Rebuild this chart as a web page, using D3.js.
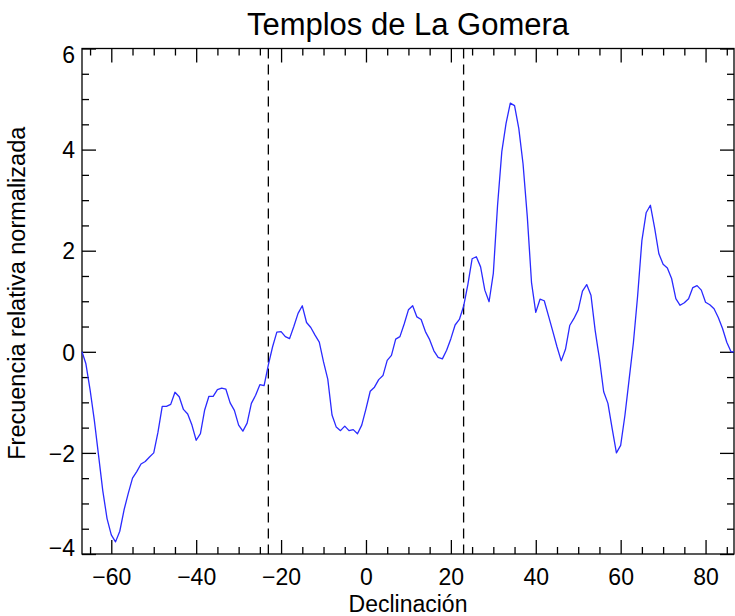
<!DOCTYPE html>
<html>
<head>
<meta charset="utf-8">
<script src="https://cdn.jsdelivr.net/npm/d3@7"></script>
<style>
  body { margin: 0; background: #fff; }
  text { font-family: "Liberation Sans", Arial, sans-serif; fill: #000; }
</style>
</head>
<body>
<script>
// declination samples (degrees)
var declinacion = [-66.9, -66, -65, -64, -63, -62, -61, -60, -59, -58, -57, -56, -55, -54, -53, -52, -51, -50,
  -49, -48, -47, -46, -45, -44, -43, -42, -41, -40, -39, -38, -37, -36, -35, -34, -33, -32, -31, -30,
  -29, -28, -27, -26, -25, -24, -23, -22, -21, -20, -19, -18, -17, -16, -15, -14, -13, -12, -11, -10,
  -9, -8, -7, -6, -5, -4, -3, -2, -1, 0, 1, 2, 3, 4, 5, 6, 7, 8, 9, 10,
  11, 12, 13, 14, 15, 16, 17, 18, 19, 20, 21, 22, 23, 24, 25, 26, 27, 28, 29, 30,
  31, 32, 33, 34, 35, 36, 37, 38, 39, 40, 41, 42, 43, 44, 45, 46, 47, 48, 49, 50,
  51, 52, 53, 54, 55, 56, 57, 58, 59, 60, 61, 62, 63, 64, 65, 66, 67, 68, 69, 70,
  71, 72, 73, 74, 75, 76, 77, 78, 79, 80, 81, 82, 83, 84, 85, 86, 86.7];

// normalized relative frequency
var frecuencia = [0.00, -0.23, -0.75, -1.35, -2.05, -2.75, -3.30, -3.62, -3.76, -3.55, -3.13, -2.80, -2.50, -2.37, -2.22, -2.17, -2.08, -2.00,
  -1.59, -1.08, -1.08, -1.04, -0.80, -0.89, -1.14, -1.23, -1.45, -1.75, -1.62, -1.15, -0.88, -0.88, -0.75, -0.72, -0.74, -1.01, -1.16, -1.45,
  -1.57, -1.41, -1.02, -0.86, -0.65, -0.67, -0.26, 0.10, 0.39, 0.40, 0.30, 0.26, 0.50, 0.76, 0.91, 0.58, 0.48, 0.33, 0.19, -0.20,
  -0.54, -1.25, -1.49, -1.56, -1.47, -1.56, -1.54, -1.62, -1.45, -1.13, -0.78, -0.70, -0.55, -0.47, -0.17, -0.07, 0.25, 0.30, 0.55, 0.83,
  0.91, 0.69, 0.64, 0.40, 0.24, 0.02, -0.11, -0.14, 0.03, 0.26, 0.53, 0.64, 0.90, 1.33, 1.84, 1.88, 1.68, 1.22, 0.99, 1.55,
  2.90, 3.96, 4.52, 4.92, 4.87, 4.42, 3.72, 2.68, 1.37, 0.78, 1.04, 1.01, 0.71, 0.41, 0.10, -0.18, 0.05, 0.52, 0.66, 0.83,
  1.20, 1.33, 1.12, 0.42, -0.14, -0.79, -1.02, -1.52, -2.00, -1.85, -1.26, -0.54, 0.18, 1.11, 2.20, 2.75, 2.90, 2.45, 1.94, 1.73,
  1.66, 1.45, 1.05, 0.92, 0.97, 1.05, 1.27, 1.31, 1.22, 0.98, 0.93, 0.85, 0.68, 0.46, 0.19, 0.00, 0.00];

// solstice markers
var solsticios = [-23, 23];

var xTicks = [-60, -40, -20, 0, 20, 40, 60, 80];
var xMinor = [-65, -55, -50, -45, -35, -30, -25, -15, -10, -5, 5, 10, 15, 25, 30, 35, 45, 50, 55, 65, 70, 75, 85];
var yTicks = [-4, -2, 0, 2, 4, 6];
var yMinor = [-3.5, -3, -2.5, -1.5, -1, -0.5, 0.5, 1, 1.5, 2.5, 3, 3.5, 4.5, 5, 5.5];

var titulo = "Templos de La Gomera";
var xTitulo = "Declinación";
var yTitulo = "Frecuencia relativa normalizada";

window.onload = drawChart;

function drawChart(){

  var width = 735, height = 616;
  var mLeft = 82, mRight = 734, mTop = 48.5, mBottom = 554;

  var svg = d3.select("body").append("svg")
    .attr("width", width)
    .attr("height", height);

  var x = d3.scaleLinear().domain([-66.9, 86.7]).range([mLeft, mRight]);
  var y = d3.scaleLinear().domain([-4, 6]).range([mBottom, mTop]);

  var fmt = d3.format("d");
  var noDomain = function(g){ g.select(".domain").remove(); };

  //bottom axis, major and minor
  svg.append("g")
    .attr("transform", "translate(0," + mBottom + ")")
    .call(d3.axisBottom(x).tickValues(xTicks).tickSize(-14).tickPadding(15).tickFormat(fmt))
    .call(noDomain);
  svg.append("g")
    .attr("transform", "translate(0," + mBottom + ")")
    .call(d3.axisBottom(x).tickValues(xMinor).tickSize(-7).tickFormat(""))
    .call(noDomain);

  //top axis
  svg.append("g")
    .attr("transform", "translate(0," + mTop + ")")
    .call(d3.axisTop(x).tickValues(xTicks).tickSize(-14).tickFormat(""))
    .call(noDomain);
  svg.append("g")
    .attr("transform", "translate(0," + mTop + ")")
    .call(d3.axisTop(x).tickValues(xMinor).tickSize(-7).tickFormat(""))
    .call(noDomain);

  //left axis
  svg.append("g")
    .attr("class", "yaxis")
    .attr("transform", "translate(" + mLeft + ",0)")
    .call(d3.axisLeft(y).tickValues(yTicks).tickSize(-14).tickPadding(7).tickFormat(fmt))
    .call(noDomain);
  svg.append("g")
    .attr("transform", "translate(" + mLeft + ",0)")
    .call(d3.axisLeft(y).tickValues(yMinor).tickSize(-7).tickFormat(""))
    .call(noDomain);

  //right axis
  svg.append("g")
    .attr("transform", "translate(" + mRight + ",0)")
    .call(d3.axisRight(y).tickValues(yTicks).tickSize(-14).tickFormat(""))
    .call(noDomain);
  svg.append("g")
    .attr("transform", "translate(" + mRight + ",0)")
    .call(d3.axisRight(y).tickValues(yMinor).tickSize(-7).tickFormat(""))
    .call(noDomain);

  svg.selectAll(".tick line").attr("stroke", "#000").attr("stroke-width", 1.3);
  svg.selectAll(".tick text")
    .attr("font-size", 23)
    .attr("fill", "#000")
    .style("font-family", "'Liberation Sans', Arial, sans-serif");

  //end labels sit a little inside the frame
  svg.selectAll(".yaxis .tick text").attr("dy", function(d){
    if (d === 6) return "0.6em";
    if (d === -4) return "0.08em";
    return "0.36em";
  });

  //frame
  svg.append("rect")
    .attr("x", mLeft).attr("y", mTop)
    .attr("width", mRight - mLeft).attr("height", mBottom - mTop)
    .attr("fill", "none").attr("stroke", "#000").attr("stroke-width", 1.3);

  //solstice lines
  svg.selectAll(".solsticio")
    .data(solsticios)
    .enter()
    .append("line")
    .attr("class", "solsticio")
    .attr("x1", function(d){ return x(d); })
    .attr("x2", function(d){ return x(d); })
    .attr("y1", mTop)
    .attr("y2", mBottom)
    .attr("stroke", "#000")
    .attr("stroke-width", 1.3)
    .attr("stroke-dasharray", "10,6");

  //curve
  var puntos = declinacion.map(function(d, i){ return [d, frecuencia[i]]; });
  var line = d3.line()
    .x(function(d){ return x(d[0]); })
    .y(function(d){ return y(d[1]); });

  svg.append("path")
    .datum(puntos)
    .attr("d", line)
    .attr("fill", "none")
    .attr("stroke", "#2a2aff")
    .attr("stroke-width", 1.3)
    .attr("stroke-linejoin", "round");

  //titles
  svg.append("text")
    .attr("x", (mLeft + mRight) / 2)
    .attr("y", 35)
    .attr("text-anchor", "middle")
    .attr("font-size", 31)
    .text(titulo);

  svg.append("text")
    .attr("x", (mLeft + mRight) / 2)
    .attr("y", 612)
    .attr("text-anchor", "middle")
    .attr("font-size", 23)
    .text(xTitulo);

  svg.append("text")
    .attr("transform", "translate(25," + ((mTop + mBottom) / 2 - 8) + ") rotate(-90)")
    .attr("text-anchor", "middle")
    .attr("font-size", 23.5)
    .text(yTitulo);
}
</script>
</body>
</html>
